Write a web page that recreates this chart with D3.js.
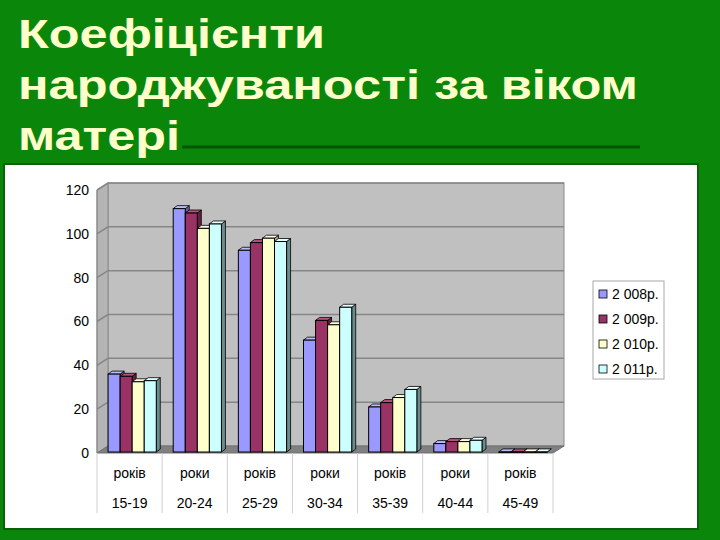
<!DOCTYPE html>
<html>
<head>
<meta charset="utf-8">
<style>
  body{margin:0;background:#0a870a}
  svg text{font-family:"Liberation Sans",Arial,sans-serif}
</style>
</head>
<body>
<div id="chart"></div>
<script src="https://d3js.org/d3.v7.min.js"></script>
<script>
// data
var categories = ['15-19', '20-24', '25-29', '30-34', '35-39', '40-44', '45-49'];
var catWords   = ['років', 'роки', 'років', 'роки', 'років', 'роки', 'років'];
var series     = ['2 008р.', '2 009р.', '2 010р.', '2 011р.'];
var v2008 = [36, 111.5, 92.5, 51.5, 21, 4.3, 0.5];
var v2009 = [35, 109.5, 96, 60.5, 23, 5.2, 0.5];
var v2010 = [32.5, 102.5, 98, 58.5, 25.3, 5.2, 0.5];
var v2011 = [33, 104.5, 96.5, 66.5, 29, 5.8, 0.5];
var yTicks = [0, 20, 40, 60, 80, 100, 120];
var titleLines = ['Коефіцієнти', 'народжуваності за віком', 'матері'];

var values = [v2008, v2009, v2010, v2011];

var W = 720, H = 540;
var front  = ['#9999ff', '#993366', '#ffffcc', '#ccffff'],
    tops   = ['#bbbbff', '#b8527f', '#ffffe6', '#e8ffff'],
    sides  = ['#6262a8', '#66203f', '#aaaa88', '#6a8c8c'];

var svg = d3.select('#chart').append('svg')
  .attr('width', W)
  .attr('height', H);

svg.append('rect')
  .attr('width', W).attr('height', H)
  .attr('fill', '#0a870a');

// title
var title = svg.append('g');
var widths = [307, 620, 162];
titleLines.forEach(function (t, i) {
  title.append('text')
    .attr('x', 18)
    .attr('y', 48 + i * 51)
    .attr('font-size', 41)
    .attr('font-weight', 'bold')
    .attr('fill', '#ffffcc')
    .attr('textLength', widths[i])
    .attr('lengthAdjust', 'spacingAndGlyphs')
    .text(t);
});

// underline
svg.append('line')
  .attr('x1', 182).attr('x2', 640)
  .attr('y1', 147).attr('y2', 147)
  .attr('stroke', '#055505')
  .attr('stroke-width', 3);

// white panel
svg.append('rect')
  .attr('x', 4).attr('y', 164)
  .attr('width', 694).attr('height', 365)
  .attr('fill', 'none')
  .attr('stroke', '#066306')
  .attr('stroke-width', 2);
svg.append('rect')
  .attr('x', 5).attr('y', 165)
  .attr('width', 692).attr('height', 363)
  .attr('fill', '#ffffff');

// scales
var left = 97, right = 553, dx = 11, dy = -7;
var y = d3.scaleLinear().domain([0, 120]).range([453, 190]);
var x0 = d3.scaleBand().domain(categories).range([left, right]);
var x1 = d3.scaleBand().domain(series).range([0, x0.bandwidth() * 0.74]);
var groupOff = x0.bandwidth() * 0.17;

var plot = svg.append('g');

// back wall
plot.append('rect')
  .attr('x', left + dx).attr('y', y(120) + dy)
  .attr('width', right - left)
  .attr('height', y(0) - y(120))
  .attr('fill', '#c0c0c0')
  .attr('stroke', '#8a8a8a');

// left wall
plot.append('path')
  .attr('d', 'M' + left + ',' + y(0) + 'L' + left + ',' + y(120) +
             'L' + (left + dx) + ',' + (y(120) + dy) + 'L' + (left + dx) + ',' + (y(0) + dy) + 'Z')
  .attr('fill', '#b4b4b4')
  .attr('stroke', '#8a8a8a');

// gridlines on the walls
yTicks.forEach(function (t) {
  if (t === 0) return;
  plot.append('path')
    .attr('d', 'M' + left + ',' + y(t) + 'L' + (left + dx) + ',' + (y(t) + dy) +
               'L' + (right + dx) + ',' + (y(t) + dy))
    .attr('fill', 'none')
    .attr('stroke', '#868686')
    .attr('stroke-width', 1.5);
});

// floor
plot.append('path')
  .attr('d', 'M' + left + ',' + y(0) + 'L' + right + ',' + y(0) +
             'L' + (right + dx) + ',' + (y(0) + dy) + 'L' + (left + dx) + ',' + (y(0) + dy) + 'Z')
  .attr('fill', '#808080')
  .attr('stroke', '#707070');

// axis line
plot.append('line')
  .attr('x1', left).attr('x2', left)
  .attr('y1', y(0)).attr('y2', y(120))
  .attr('stroke', '#8a8a8a');

// y axis labels
var yAxis = d3.axisLeft(y).tickValues(yTicks).tickSize(0).tickPadding(8);
var ya = svg.append('g')
  .attr('transform', 'translate(' + left + ',0)')
  .call(yAxis);
ya.select('.domain').remove();
ya.selectAll('text')
  .attr('font-size', 14)
  .attr('fill', '#000')
  .style('font-family', '"Liberation Sans",Arial,sans-serif');

// 3D bars
var bdx = 4, bdy = -3;
var bars = plot.append('g');
categories.forEach(function (c, ci) {
  series.forEach(function (s, si) {
    var v = values[si][ci];
    var bx = x0(c) + groupOff + x1(s),
        bw = x1.bandwidth(),
        by = y(v),
        b0 = y(0) - 1;
    var g = bars.append('g');
    g.append('path')     // side
      .attr('d', 'M' + (bx + bw) + ',' + by + 'L' + (bx + bw + bdx) + ',' + (by + bdy) +
                 'L' + (bx + bw + bdx) + ',' + (b0 + bdy) + 'L' + (bx + bw) + ',' + b0 + 'Z')
      .attr('fill', sides[si])
      .attr('stroke', '#000')
      .attr('stroke-width', 0.8);
    g.append('path')     // top
      .attr('d', 'M' + bx + ',' + by + 'L' + (bx + bdx) + ',' + (by + bdy) +
                 'L' + (bx + bw + bdx) + ',' + (by + bdy) + 'L' + (bx + bw) + ',' + by + 'Z')
      .attr('fill', tops[si])
      .attr('stroke', '#000')
      .attr('stroke-width', 0.8);
    g.append('rect')     // front
      .attr('x', bx).attr('y', by)
      .attr('width', bw).attr('height', Math.max(0.5, b0 - by))
      .attr('fill', front[si])
      .attr('stroke', '#000')
      .attr('stroke-width', 1);
  });
});

// category separators and labels
var xg = svg.append('g');
x0.domain().concat(['end']).forEach(function (c, i) {
  var xx = i < categories.length ? x0(c) : right;
  xg.append('line')
    .attr('x1', xx).attr('x2', xx)
    .attr('y1', y(0)).attr('y2', 513)
    .attr('stroke', '#d0d0d0');
});
categories.forEach(function (c, i) {
  var cx = x0(c) + x0.bandwidth() / 2;
  xg.append('text')
    .attr('x', cx).attr('y', 478)
    .attr('text-anchor', 'middle')
    .attr('font-size', 14)
    .text(catWords[i]);
  xg.append('text')
    .attr('x', cx).attr('y', 508)
    .attr('text-anchor', 'middle')
    .attr('font-size', 14)
    .text(c);
});

// legend
var lg = svg.append('g');
lg.append('rect')
  .attr('x', 593).attr('y', 281)
  .attr('width', 71).attr('height', 98)
  .attr('fill', '#fff')
  .attr('stroke', '#a8a8a8');
series.forEach(function (s, i) {
  var ly = 294 + i * 25;
  lg.append('rect')
    .attr('x', 599).attr('y', ly - 4)
    .attr('width', 8).attr('height', 8)
    .attr('fill', front[i])
    .attr('stroke', '#000')
    .attr('stroke-width', 0.8);
  lg.append('text')
    .attr('x', 612).attr('y', ly + 5)
    .attr('font-size', 14)
    .text(s);
});
</script>
</body>
</html>
